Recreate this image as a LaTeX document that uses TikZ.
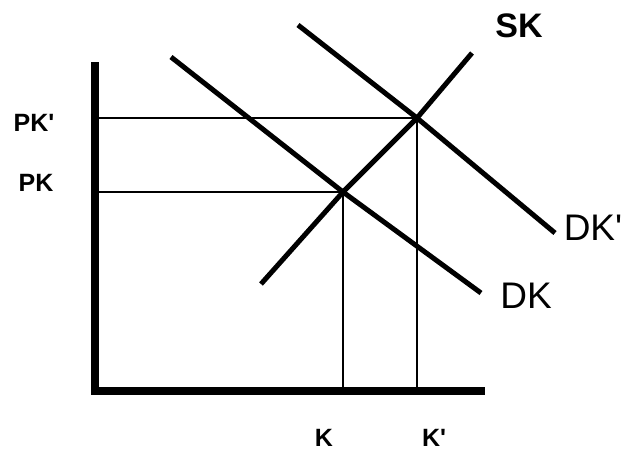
\documentclass[tikz,border=0pt]{standalone}
\usepackage{fontspec}
\setsansfont{Liberation Sans}

\begin{document}
\begin{tikzpicture}[x=1pt, y=-1pt, font=\sffamily,
  axis/.style={line width=7.5pt},
  curve/.style={line width=5pt, line join=round},
  guide/.style={line width=1.3pt},
  tick/.style={inner sep=0pt, font=\sffamily\bfseries\fontsize{25}{25}\selectfont},
  curvelabel/.style={font=\sffamily\fontsize{37}{37}\selectfont}]
  \useasboundingbox (0,0) rectangle (626,451);
  % axes
  \coordinate (top) at (95,62);
  \coordinate (origin) at (95,391);
  \coordinate (right) at (485,391);
  \draw[axis] (top) -- (origin) -- (right);
  % equilibria
  \coordinate (eq) at (343,192);
  \coordinate (eqp) at (417,118);
  % curves
  \draw[curve] (171,57) -- (eq) -- (481,293);
  \draw[curve] (298,25) -- (eqp) -- (555,233);
  \draw[curve] (261,284) -- (eq) -- (eqp) -- (472,53);
  % guides
  \draw[guide] (top |- eq) -- (eq) -- (eq |- origin);
  \draw[guide] (top |- eqp) -- (eqp) -- (eqp |- origin);
  % labels
  \node[tick] (pkp) at (34,123) {PK\textquotesingle};
  \node[tick] (pk) at (36,183) {PK};
  \node[tick] (k) at (324,438) {K};
  \node[tick] (kp) at (434,438) {K\textquotesingle};
  \node[font=\sffamily\bfseries\fontsize{34}{34}\selectfont] (sklab) at (519,26) {SK};
  \node[curvelabel] (dkplab) at (593,228) {DK\textquotesingle};
  \node[curvelabel] (dklab) at (526,296) {DK};
\end{tikzpicture}
\end{document}
